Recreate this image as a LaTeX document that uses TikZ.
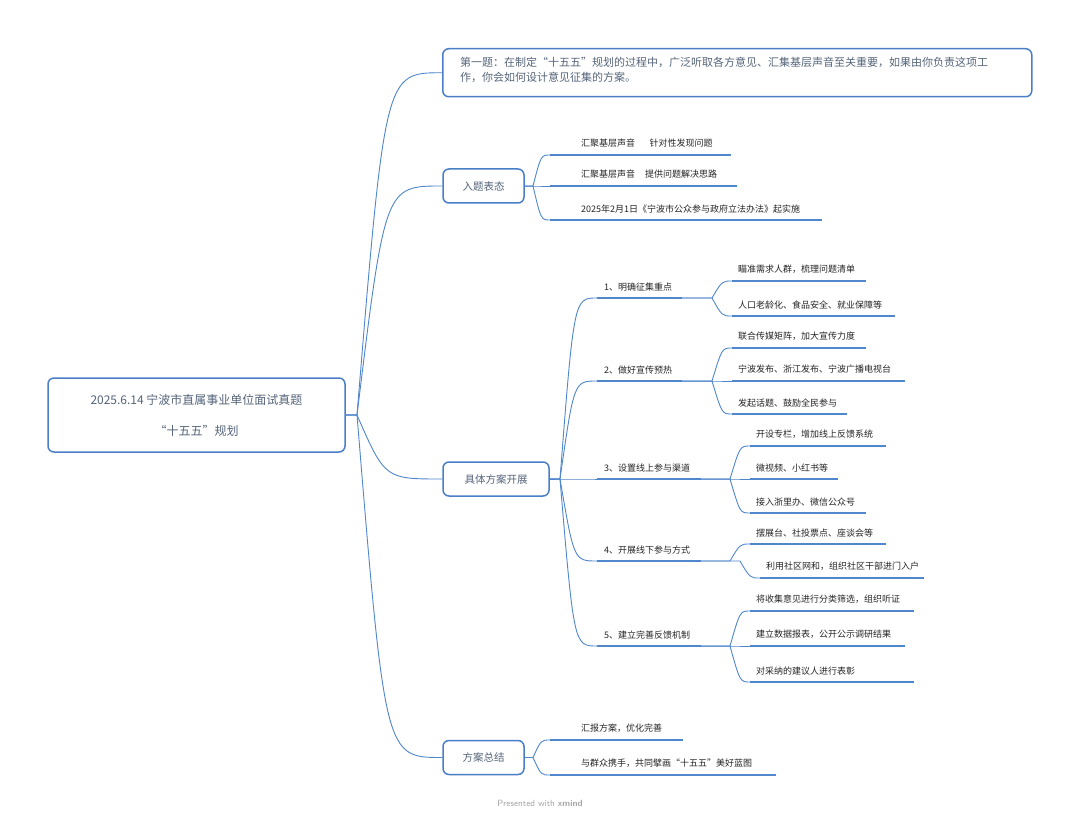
\documentclass[tikz,border=0pt]{standalone}
\usepackage{fontspec}
\setmainfont{Noto Sans CJK SC}
\begin{document}
\begin{tikzpicture}[x=1pt,y=-1pt,
  conn/.style={draw=linkc,line width=0.9pt},
  uline/.style={draw=linkc,line width=2.6pt},
  mbox/.style={draw=boxc,line width=1.5pt,rounded corners=6pt,text=txtc,font=\fontsize{10.5}{13}\selectfont,inner sep=0pt},
  leaf/.style={anchor=south west,inner sep=0pt,text=black!85,font=\fontsize{9}{10}\selectfont},
  sub/.style={anchor=south west,inner sep=0pt,text=black!85,font=\fontsize{9}{10}\selectfont}]
\definecolor{linkc}{HTML}{4F86CC}
\definecolor{boxc}{HTML}{4A7EC6}
\definecolor{txtc}{HTML}{55657A}
% #1 from, #2 to, #3 split x, #4 control x
\newcommand\mybr[4]{\draw[conn] (#1) -- (#3,0 |- #1) .. controls (#4,0 |- #2) .. (#2);}
\useasboundingbox (0,0) rectangle (1080,824);
\fill[white] (0,0) rectangle (1080,824);
% root
\node[mbox,minimum width=297pt,minimum height=74pt,align=center,font=\fontsize{12}{31}\selectfont] (root) at (196.5,415) {2025.6.14 宁波市直属事业单位面试真题\\“十五五”规划};
% main boxes
\node[mbox,minimum width=589pt,minimum height=48pt,anchor=north west] (q) at (442,48) {};
\node[anchor=north west,inner sep=0pt,text=txtc,font=\fontsize{11}{15}\selectfont,align=left] (qt) at (460,57) {第一题：在制定“十五五”规划的过程中，广泛听取各方意见、汇集基层声音至关重要，如果由你负责这项工\\作，你会如何设计意见征集的方案。};
\node[mbox,minimum width=81pt,minimum height=34pt] (b1) at (483.5,186) {入题表态};
\node[mbox,minimum width=106pt,minimum height=34pt] (b2) at (496,479) {具体方案开展};
\node[mbox,minimum width=81pt,minimum height=34pt] (b3) at (483.5,757.5) {方案总结};
\coordinate (r0) at (345,415);
\mybr{r0}{q.west}{357}{385}
\mybr{r0}{b1.west}{357}{385}
\mybr{r0}{b2.west}{357}{385}
\mybr{r0}{b3.west}{357}{385}
% b1 children
\foreach \n/\y/\e/\t in {a/155/731/{汇聚基层声音\hspace{1.6em}针对性发现问题},b/186/737/{汇聚基层声音\hspace{1.1em}提供问题解决思路},c/220/822/{2025年2月1日《宁波市公众参与政府立法办法》起实施}}{
  \coordinate (s1\n) at (550,\y); \coordinate (e1\n) at (\e,\y);
  \draw[uline] (s1\n) -- (e1\n);
  \node[leaf] (t1\n) at (581,\y-7) {\t};
  \mybr{b1.east}{s1\n}{533}{541}
}
% b3 children
\foreach \n/\y/\e/\t in {a/740/683/{汇报方案，优化完善},b/775/776/{与群众携手，共同擘画“十五五”美好蓝图}}{
  \coordinate (s3\n) at (550,\y); \coordinate (e3\n) at (\e,\y);
  \draw[uline] (s3\n) -- (e3\n);
  \node[leaf] (t3\n) at (581,\y-7) {\t};
  \mybr{b3.east}{s3\n}{533}{541}
}
% b2 subs
\foreach \n/\y/\e/\t in {1/298/682/{1、明确征集重点},2/381/682/{2、做好宣传预热},3/479/701/{3、设置线上参与渠道},4/561/701/{4、开展线下参与方式},5/646/701/{5、建立完善反馈机制}}{
  \coordinate (s2\n) at (597,\y); \coordinate (e2\n) at (\e,\y);
  \draw[uline] (s2\n) -- (e2\n);
  \node[sub] (t2\n) at (604,\y-7) {\t};
  \mybr{b2.east}{s2\n}{560}{574}
}
% leaves
\foreach \p/\n/\x/\y/\e/\t in {
 1/a/732/281/866/{瞄准需求人群，梳理问题清单},
 1/b/732/316/895/{人口老龄化、食品安全、就业保障等},
 2/a/732/348/866/{联合传媒矩阵，加大宣传力度},
 2/b/732/381/905/{宁波发布、浙江发布、宁波广播电视台},
 2/c/732/414/847/{发起话题、鼓励全民参与},
 3/a/750/446/886/{开设专栏，增加线上反馈系统},
 3/b/750/479/838/{微视频、小红书等},
 3/c/750/513/866/{接入浙里办、微信公众号},
 4/a/750/544/886/{摆展台、社投票点、座谈会等},
 4/b/760/578/924/{利用社区网和，组织社区干部进门入户},
 5/a/750/611/914/{将收集意见进行分类筛选，组织听证},
 5/b/750/646/905/{建立数据报表，公开公示调研结果},
 5/c/750/682/914/{对采纳的建议人进行表彰}}{
  \coordinate (sl\p\n) at (\x,\y); \coordinate (el\p\n) at (\e,\y);
  \draw[uline] (sl\p\n) -- (el\p\n);
  \node[leaf] (tl\p\n) at (\x+6,\y-7) {\t};
  \mybr{e2\p}{sl\p\n}{\x-20}{\x-10}
}
\node[text=black!35,font=\fontsize{9}{10}\selectfont\sffamily] (wm) at (540,803) {Presented with \textbf{xmind}};
\end{tikzpicture}
\end{document}
